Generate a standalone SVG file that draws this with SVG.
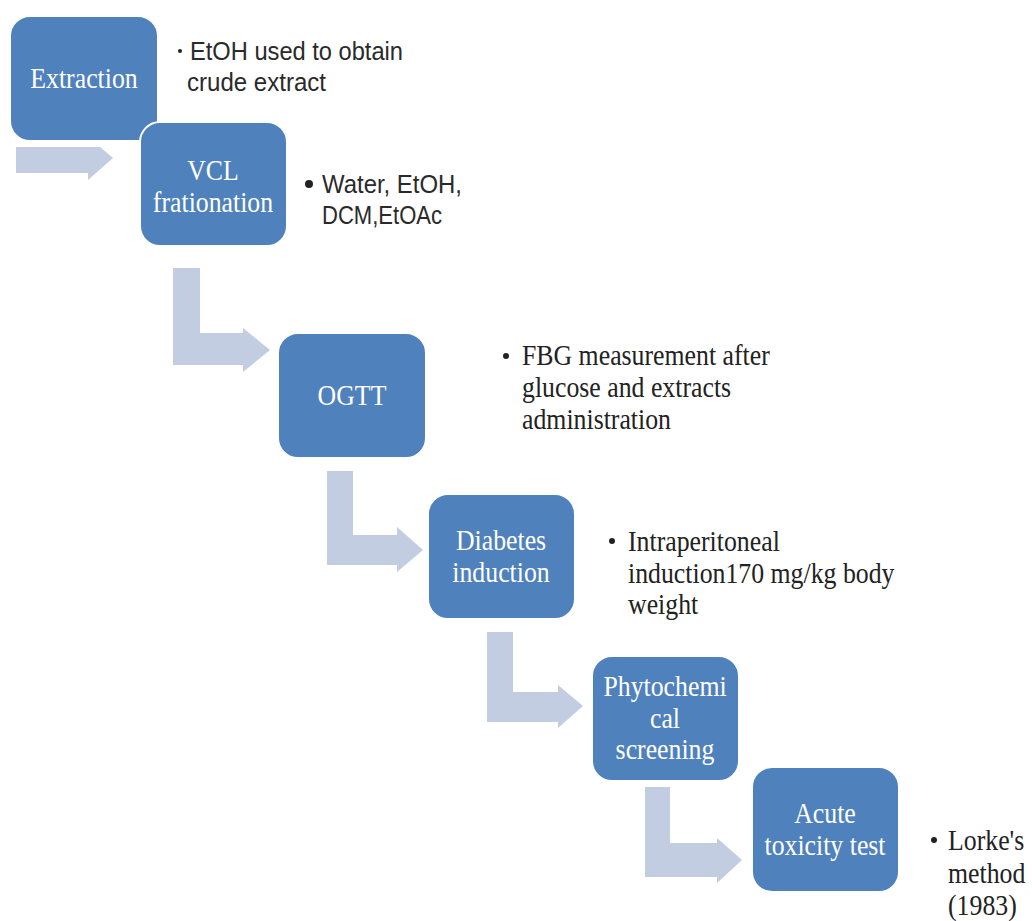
<svg xmlns="http://www.w3.org/2000/svg" width="1032" height="921" viewBox="0 0 1032 921">
<style>
.arrow{fill:#C2CDE2;stroke:none}
.box{fill:#4F81BD;stroke:#FFFFFF;stroke-width:2}
.lbl{font-family:"Liberation Serif","Times New Roman",serif;font-size:30px;fill:#FFFFFF;text-anchor:middle}
.ser{font-family:"Liberation Serif","Times New Roman",serif;font-size:30px;fill:#222222}
.sans{font-family:"Liberation Sans",Arial,sans-serif;font-size:25px;fill:#2a2a2a}
.dot{fill:#222222}
</style>
<rect width="1032" height="921" fill="#FFFFFF"/>
<g id="connectors">
<polygon class="arrow" points="16,147 100,147 113,158 88,180 88,173 16,173"/>
<polygon class="arrow" points="173,268 200,268 200,333 243,333 243,328 270,350 243,372 243,365 173,365"/>
<polygon class="arrow" points="327,471 353,471 353,535 397,535 397,527 423,550 397,572 397,565 327,565"/>
<polygon class="arrow" points="487,632 513,632 513,692 558,692 558,685 583,706 558,728 558,722 487,722"/>
<polygon class="arrow" points="645,787 670,787 670,843 717,843 717,838 742,860 717,883 717,877 645,877"/>
</g>
<g id="extraction">
<rect class="box" x="10" y="16" width="148" height="125" rx="20"/>
<text class="lbl" transform="translate(84,88) scale(0.86,1)">Extraction</text>
<circle class="dot" cx="180" cy="51" r="2"/>
<text class="sans"><tspan x="190" y="60" textLength="213" lengthAdjust="spacingAndGlyphs">EtOH used to obtain</tspan><tspan x="187" y="91" textLength="139" lengthAdjust="spacingAndGlyphs">crude extract</tspan></text>
</g>
<g id="vcl">
<rect class="box" x="140" y="122" width="147" height="124" rx="20"/>
<text class="lbl" transform="translate(213,180) scale(0.86,1)"><tspan x="0" y="0">VCL</tspan><tspan x="0" y="32">frationation</tspan></text>
<circle class="dot" cx="309" cy="184" r="4"/>
<text class="sans"><tspan x="322" y="193" textLength="140" lengthAdjust="spacingAndGlyphs">Water, EtOH,</tspan><tspan x="322" y="224" textLength="120" lengthAdjust="spacingAndGlyphs">DCM,EtOAc</tspan></text>
</g>
<g id="ogtt">
<rect class="box" x="278" y="333" width="148" height="125" rx="20"/>
<text class="lbl" transform="translate(352,405) scale(0.86,1)">OGTT</text>
<circle class="dot" cx="506" cy="356" r="3"/>
<text class="ser" transform="translate(522,365) scale(0.86,1)"><tspan x="0" y="0">FBG measurement after</tspan><tspan x="0" y="32">glucose and extracts</tspan><tspan x="0" y="64">administration</tspan></text>
</g>
<g id="diabetes">
<rect class="box" x="428" y="494" width="147" height="125" rx="20"/>
<text class="lbl" transform="translate(501,550) scale(0.86,1)"><tspan x="0" y="0">Diabetes</tspan><tspan x="0" y="32">induction</tspan></text>
<circle class="dot" cx="612" cy="541" r="3"/>
<text class="ser" transform="translate(628,551) scale(0.86,1)"><tspan x="0" y="0">Intraperitoneal</tspan><tspan x="0" y="32">induction170 mg/kg body</tspan><tspan x="0" y="63">weight</tspan></text>
</g>
<g id="phytochemical">
<rect class="box" x="592" y="656" width="147" height="125" rx="20"/>
<text class="lbl" transform="translate(665,696) scale(0.86,1)"><tspan x="0" y="0">Phytochemi</tspan><tspan x="0" y="32">cal</tspan><tspan x="0" y="63">screening</tspan></text>
</g>
<g id="acute">
<rect class="box" x="752" y="767" width="147" height="125" rx="20"/>
<text class="lbl" transform="translate(825,823) scale(0.86,1)"><tspan x="0" y="0">Acute</tspan><tspan x="0" y="32">toxicity test</tspan></text>
<circle class="dot" cx="934" cy="840" r="3"/>
<text class="ser" transform="translate(948,850) scale(0.86,1)"><tspan x="0" y="0">Lorke's</tspan><tspan x="0" y="33">method</tspan><tspan x="0" y="65">(1983)</tspan></text>
</g>
</svg>
